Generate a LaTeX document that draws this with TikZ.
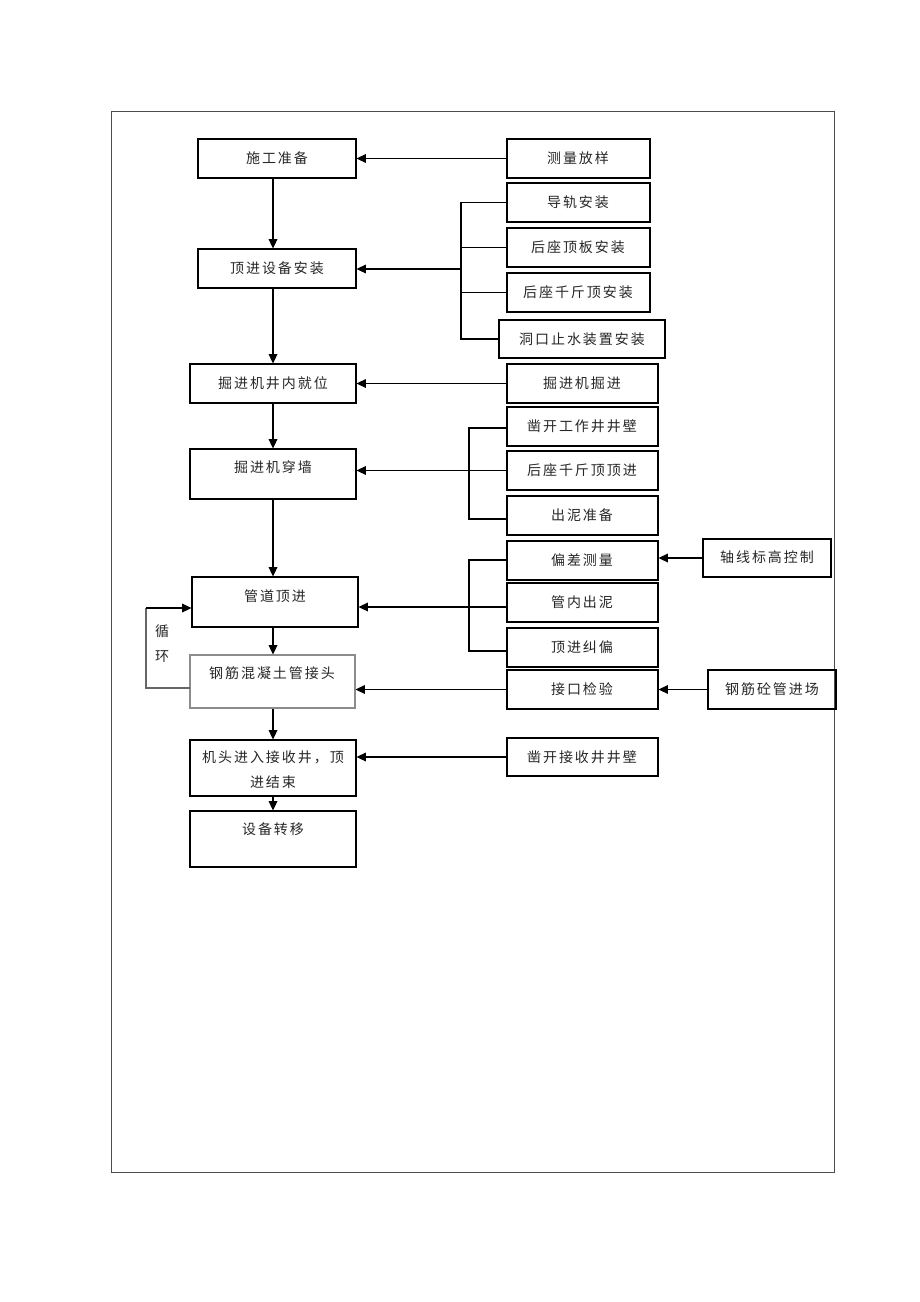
\documentclass[tikz,border=0pt]{standalone}
\usepackage{fontspec}
\newfontfamily\cjk{Noto Sans CJK SC}[LetterSpace=14]
\usetikzlibrary{arrows.meta}
\newcommand\bx[6][black]{\node[draw=#1,line width=0.8pt,inner sep=0pt,minimum width={(#4-#2)*0.75pt},minimum height={(#5-#3)*0.75pt}] (#6) at ({(#2+#4)/2},{(#3+#5)/2}) {};}
\newcommand\tx[4]{\node[txt] (#1) at (#2,#3) {#4};}
\begin{document}
\begin{tikzpicture}[x=0.75pt,y=-0.75pt,
  txt/.style={inner sep=0pt,align=center,text=black!85,font=\cjk\fontsize{10.5}{18.75}\selectfont},
  arr/.style={-{Triangle[length=7pt,width=6.5pt]},line width=0.9pt},
  ln/.style={line width=0.8pt}]
\useasboundingbox (0,0) rectangle (920,1302);
\draw[line width=0.6pt,black!70] (111,111) rectangle (834,1172);
% boxes
\bx{198}{139}{356}{178}{sg} \tx{tsg}{277}{158}{施工准备}
\bx{507}{139}{650}{178}{cl} \tx{tcl}{578}{158}{测量放样}
\bx{507}{183}{650}{222}{dg} \tx{tdg}{578}{202}{导轨安装}
\bx{507}{228}{650}{267}{hz} \tx{thz}{578}{247}{后座顶板安装}
\bx{507}{273}{650}{312}{hq} \tx{thq}{578}{292}{后座千斤顶安装}
\bx{499}{320}{665}{358}{dk} \tx{tdk}{582}{339}{洞口止水装置安装}
\bx{198}{249}{356}{288}{sb} \tx{tsb}{277}{268}{顶进设备安装}
\bx{190}{364}{356}{403}{jw} \tx{tjw}{273}{383}{掘进机井内就位}
\bx{507}{364}{658}{403}{jj} \tx{tjj}{582}{383}{掘进机掘进}
\bx{507}{407}{658}{446}{zk} \tx{tzk}{582}{426}{凿开工作井井壁}
\bx{507}{451}{658}{490}{hd} \tx{thd}{582}{470}{后座千斤顶顶进}
\bx{507}{496}{658}{535}{cn} \tx{tcn}{582}{515}{出泥准备}
\bx{190}{449}{356}{499}{cq} \tx{tcq}{273}{467}{掘进机穿墙}
\bx{192}{577}{358}{627}{gd} \tx{tgd}{275}{596}{管道顶进}
\bx{507}{541}{658}{580}{pc} \tx{tpc}{582}{560}{偏差测量}
\bx{507}{583}{658}{622}{gn} \tx{tgn}{582}{602}{管内出泥}
\bx{507}{628}{658}{667}{jp} \tx{tjp}{582}{647}{顶进纠偏}
\bx{703}{539}{831}{577}{zx} \tx{tzx}{767}{557}{轴线标高控制}
\bx[black!45]{190}{655}{355}{708}{gj} \tx{tgj}{272}{673}{钢筋混凝土管接头}
\bx{507}{670}{658}{709}{jk} \tx{tjk}{582}{689}{接口检验}
\bx{708}{670}{836}{709}{gc} \tx{tgc}{772}{689}{钢筋砼管进场}
\bx{190}{740}{356}{796}{jt} \tx{tjt}{273}{770}{机头进入接收井，顶\\进结束}
\bx{507}{738}{658}{776}{zs} \tx{tzs}{582}{757}{凿开接收井井壁}
\bx{190}{811}{356}{867}{sy} \tx{tsy}{273}{829}{设备转移}
\tx{xun}{162}{631}{循}
\tx{huan}{162}{657}{环}
% main vertical arrows
\draw[arr] (sg.south -| jw.north) -- (sb.north -| jw.north);
\draw[arr] (sb.south -| jw.north) -- (jw.north);
\draw[arr] (jw.south) -- (cq.north);
\draw[arr] (cq.south) -- (gd.north -| cq.south);
\draw[arr] (gd.south -| cq.south) -- (gj.north -| cq.south);
\draw[arr] (gj.south -| jt.north) -- (jt.north);
\draw[arr] (jt.south) -- (sy.north);
% right inputs
\draw[arr] (cl.west) -- (cl.west -| sg.east);
\draw[arr] (jj.west) -- (jj.west -| jw.east);
\draw[arr] (zs.west) -- (zs.west -| jt.east);
\draw[arr] (jk.west) -- (jk.west -| gj.east);
\draw[arr] (zx.west) -- (zx.west -| pc.east);
\draw[arr] (gc.west) -- (gc.west -| jk.east);
% bracket 1
\coordinate (b1) at (461,269);
\draw[ln] (dg.west) -- (dg.west -| b1) -- (dk.west -| b1) -- (dk.west);
\draw[ln] (hz.west) -- (hz.west -| b1);
\draw[ln] (hq.west) -- (hq.west -| b1);
\draw[arr] (b1) -- (b1 -| sb.east);
% bracket 2
\coordinate (b2t) at (469,428);
\coordinate (b2b) at (469,519);
\draw[ln] (zk.west |- b2t) -- (b2t) -- (b2b) -- (cn.west |- b2b);
\draw[arr] (hd.west) -- (hd.west -| cq.east);
% bracket 3
\coordinate (b3t) at (469,560);
\coordinate (b3m) at (469,607);
\coordinate (b3b) at (469,651);
\draw[ln] (pc.west |- b3t) -- (b3t) -- (b3b) -- (jp.west |- b3b);
\draw[arr] (gn.west |- b3m) -- (gd.east |- b3m);
% loop
\coordinate (l1) at (190,688);
\coordinate (l2) at (146,688);
\coordinate (l3) at (146,608);
\draw[ln,black!60] (l1) -- (l2) -- (l3);
\draw[arr] (l3) -- (gd.west |- l3);
\end{tikzpicture}
\end{document}
